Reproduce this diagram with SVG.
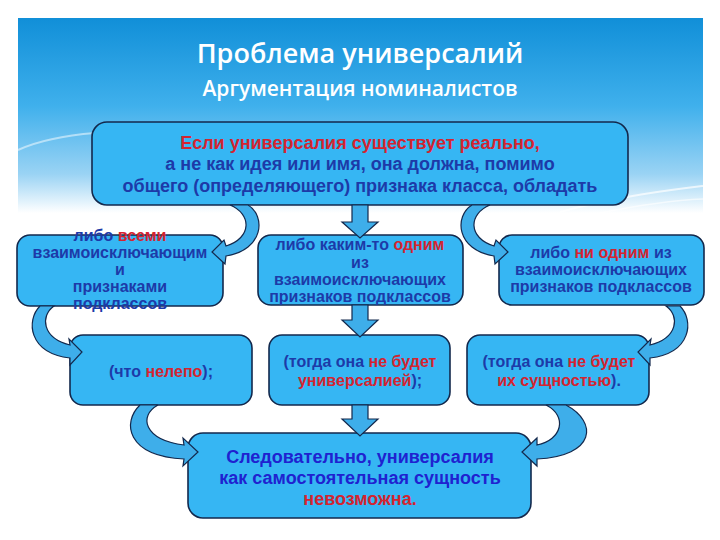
<svg xmlns="http://www.w3.org/2000/svg" width="720" height="540" viewBox="0 0 720 540">
<defs>
<linearGradient id="band" x1="0" y1="0" x2="0" y2="1">
<stop offset="0" stop-color="#118fd8"/>
<stop offset="0.45" stop-color="#3fb0ec"/>
<stop offset="0.8" stop-color="#9ad3f4"/>
<stop offset="1" stop-color="#ffffff"/>
</linearGradient>
<style>
.box{fill:#36b6f3;stroke:#13294d;stroke-width:1.6}
.arr{fill:#3eaeea;stroke:#13294d;stroke-width:1.2;stroke-linejoin:miter}
.t{font-family:"Liberation Sans",Arial,sans-serif;font-weight:bold;text-anchor:middle}
.b{fill:#1d3aa8}
.r{fill:#d42430}
.hd{font-family:"Open Sans","Noto Sans",sans-serif;font-weight:600;fill:#ffffff;text-anchor:middle}
</style>
</defs>
<rect x="0" y="0" width="720" height="540" fill="#ffffff"/>
<rect x="18" y="18" width="685" height="195" fill="url(#band)"/>
<path d="M560,212 C620,196 670,190 703,186" fill="none" stroke="#ffffff" stroke-opacity="0.7" stroke-width="2"/>
<path d="M600,213 C640,205 680,200 703,199" fill="none" stroke="#ffffff" stroke-opacity="0.6" stroke-width="1.5"/>
<path d="M18,150 C40,140 70,135 95,133" fill="none" stroke="#ffffff" stroke-opacity="0.5" stroke-width="2"/>
<text class="hd" x="360" y="63" font-size="27">Проблема универсалий</text>
<text class="hd" x="360" y="96" font-size="21">Аргументация номиналистов</text>

<g id="node-top">
<rect class="box" x="92" y="122" width="536" height="83" rx="15"/>
<text class="t r" x="360" y="149" font-size="18">Если универсалия существует реально,</text>
<text class="t b" x="360" y="170" font-size="18">а не как идея или имя, она должна, помимо</text>
<text class="t b" x="360" y="192" font-size="18">общего (определяющего) признака класса, обладать</text>
</g>
<g id="node-all">
<rect class="box" x="17" y="235" width="206" height="71" rx="13"/>
<text class="t" x="120" y="241" font-size="16"><tspan class="b">либо </tspan><tspan class="r">всеми</tspan></text>
<text class="t b" x="120" y="258" font-size="16">взаимоисключающим</text>
<text class="t b" x="120" y="275" font-size="16">и</text>
<text class="t b" x="120" y="292" font-size="16">признаками</text>
<text class="t b" x="120" y="309" font-size="16">подклассов</text>
</g>
<g id="node-one">
<rect class="box" x="258" y="235" width="205" height="70" rx="13"/>
<text class="t" x="360" y="250" font-size="16"><tspan class="b">либо каким-то </tspan><tspan class="r">одним</tspan></text>
<text class="t b" x="360" y="268" font-size="16">из</text>
<text class="t b" x="360" y="285" font-size="16">взаимоисключающих</text>
<text class="t b" x="360" y="302" font-size="16">признаков подклассов</text>
</g>
<g id="node-none">
<rect class="box" x="499" y="235" width="205" height="70" rx="13"/>
<text class="t" x="601" y="258" font-size="16"><tspan class="b">либо </tspan><tspan class="r">ни одним</tspan><tspan class="b"> из</tspan></text>
<text class="t b" x="601" y="275" font-size="16">взаимоисключающих</text>
<text class="t b" x="601" y="292" font-size="16">признаков подклассов</text>
</g>
<g id="node-absurd">
<rect class="box" x="70" y="335" width="182" height="70" rx="13"/>
<text class="t" x="161" y="377" font-size="16"><tspan class="b">(что </tspan><tspan class="r">нелепо</tspan><tspan class="b">);</tspan></text>
</g>
<g id="node-notuniv">
<rect class="box" x="269" y="335" width="181" height="70" rx="13"/>
<text class="t" x="360" y="367" font-size="16"><tspan class="b">(тогда она </tspan><tspan class="r">не будет</tspan></text>
<text class="t" x="360" y="386" font-size="16"><tspan class="r">универсалией</tspan><tspan class="b">);</tspan></text>
</g>
<g id="node-notessence">
<rect class="box" x="467" y="335" width="182" height="70" rx="13"/>
<text class="t" x="559" y="367" font-size="16"><tspan class="b">(тогда она </tspan><tspan class="r">не будет</tspan></text>
<text class="t" x="559" y="386" font-size="16"><tspan class="r">их сущностью</tspan><tspan class="b">).</tspan></text>
</g>
<g id="node-conclusion">
<rect class="box" x="188" y="433" width="343" height="85" rx="15"/>
<text class="t" x="360" y="463" font-size="18" fill="#1f22d0">Следовательно, универсалия</text>
<text class="t" x="360" y="484" font-size="18" fill="#1f22d0">как самостоятельная сущность</text>
<text class="t r" x="360" y="505" font-size="18">невозможна.</text>
</g>

<g id="connectors">
<path class="arr" d="M352,205 L368,205 L368,222 L378,222 L360,238 L342,222 L352,222 Z"/>
<path class="arr" d="M352,305 L368,305 L368,320 L378,320 L360,337 L342,320 L352,320 Z"/>
<path class="arr" d="M352,405 L368,405 L368,419 L378,419 L360,436 L342,419 L352,419 Z"/>
<path class="arr" d="M230,205 C252,214 252,238 226,246 L224,240 L212,252 L225,264 L226,256 C264,250 266,216 248,205 Z"/>
<path class="arr" transform="translate(720,0) scale(-1,1)" d="M230,205 C252,214 252,238 226,246 L224,240 L212,252 L225,264 L226,256 C264,250 266,216 248,205 Z"/>
<path class="arr" d="M54,306 C40,316 42,338 70,345 L69,339 L82,352 L70,365 L70,358 C28,353 26,320 40,306 Z"/>
<path class="arr" transform="translate(720,0) scale(-1,1)" d="M54,306 C40,316 42,338 70,345 L69,339 L82,352 L70,365 L70,358 C28,353 26,320 40,306 Z"/>
<path class="arr" d="M158,405 C138,416 144,440 184,445 L183,438 L198,452 L183,466 L184,459 C126,456 122,422 140,405 Z"/>
<path class="arr" d="M546,405 C568,416 562,440 537,445 L537,438 L522,452 L537,466 L537,459 C596,456 598,422 566,405 Z"/>
</g>
</svg>
